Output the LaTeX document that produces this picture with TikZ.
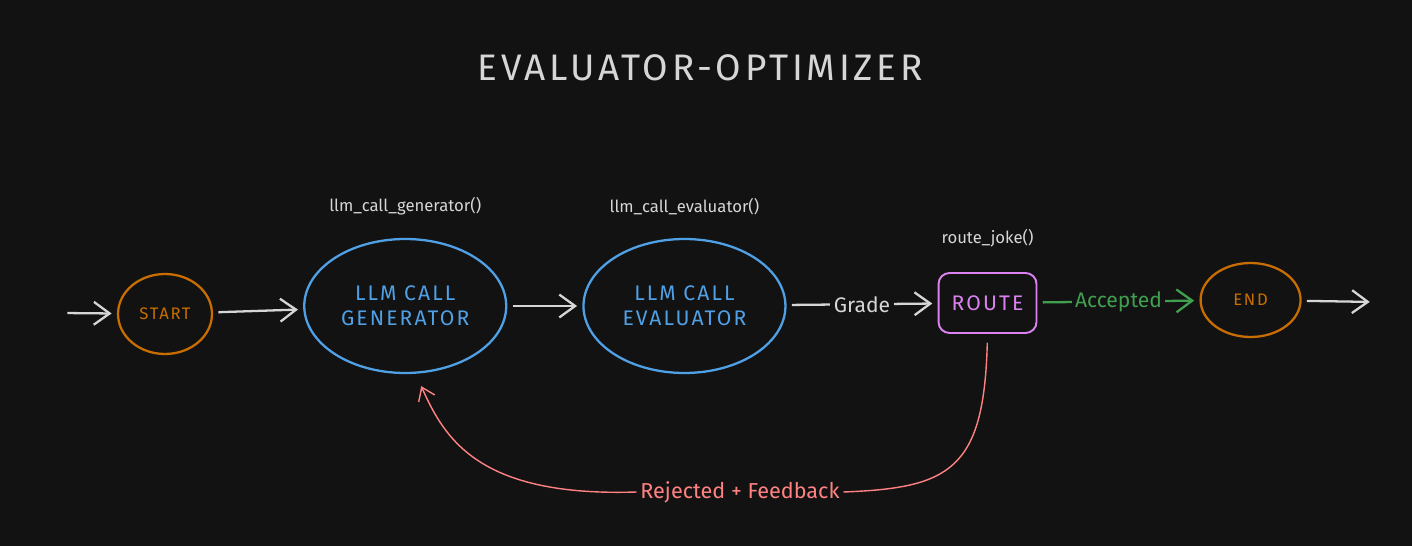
\documentclass[tikz,border=0pt]{standalone}
\usepackage{fontspec}
\setmainfont{Fira Sans}
\newfontfamily\capsfont[LetterSpace=10]{Fira Sans}
\usetikzlibrary{shapes.geometric, arrows.meta, positioning}
\definecolor{bgdark}{RGB}{18,18,18}
\definecolor{lightgrey}{RGB}{214,214,214}
\definecolor{nodeorange}{RGB}{200,110,0}
\definecolor{callblue}{RGB}{80,160,230}
\definecolor{routepink}{RGB}{220,130,240}
\definecolor{acceptgreen}{RGB}{64,160,80}
\definecolor{rejectred}{RGB}{255,130,130}

\begin{document}
\begin{tikzpicture}[
    x=0.02cm, y=-0.02cm,
    node distance=1.6cm,
    terminal/.style={ellipse, draw=nodeorange, line width=1.3pt, text=nodeorange, minimum width=1.88cm, minimum height=1.6cm, font=\capsfont\fontsize{9.5}{11}\selectfont},
    call/.style={ellipse, draw=callblue, line width=1.3pt, text=callblue, minimum width=4.04cm, minimum height=2.68cm, align=center, font=\capsfont\fontsize{12}{14}\selectfont},
    router/.style={rectangle, rounded corners=0.22cm, draw=routepink, line width=1.1pt, text=routepink, minimum width=1.96cm, minimum height=1.2cm, font=\capsfont\fontsize{12}{14}\selectfont},
    fname/.style={text=lightgrey, font=\fontsize{9.5}{11}\selectfont},
    arrow/.style={-{Straight Barb[length=9pt, width=13pt]}, line width=1.3pt, lightgrey, shorten >=3pt, shorten <=3pt},
    lbl/.style={fill=bgdark, font=\fontsize{12}{14}\selectfont, inner sep=2pt}
]

\fill[bgdark] (0,0) rectangle (1412,546);

\node[text=lightgrey, font=\capsfont\fontsize{21}{25}\selectfont] (title) at (700,68) {EVALUATOR-OPTIMIZER};

\node[terminal] (start) at (165,314) {START};
\node[call, right=1.8cm of start, yshift=0.16cm] (gen) {LLM CALL\\GENERATOR};
\node[call, right=1.5cm of gen] (eval) {LLM CALL\\EVALUATOR};
\node[router, right=3.02cm of eval, yshift=0.06cm] (route) {ROUTE};
\node[terminal, right=3.24cm of route, minimum width=2cm, minimum height=1.48cm, yshift=0.06cm] (end) {END};

\node[fname, above=0.33cm of gen] (genfn) {llm\_call\_generator()};
\node[fname, above=0.33cm of eval] (evalfn) {llm\_call\_evaluator()};
\node[fname, above=0.38cm of route] (routefn) {route\_joke()};

\coordinate (in) at (62,313);
\coordinate (out) at (1375,302);

\draw[arrow] (in) -- (start);
\draw[arrow] (start) -- (gen);
\draw[arrow] (gen) -- (eval);
\draw[arrow] (eval) -- node[lbl, text=lightgrey] {Grade} (route);
\draw[arrow, acceptgreen] (route) -- node[lbl, text=acceptgreen] {Accepted} (end);
\draw[arrow] (end) -- (out);

% feedback loop
\node[lbl, text=rejectred, font=\fontsize{12.3}{14}\selectfont] (fb) at (740,492) {Rejected + Feedback};
\draw[rejectred, line width=0.8pt, shorten <=5pt] (route.south) .. controls (984,470) and (950,488) .. (fb.east);
\draw[rejectred, line width=0.8pt, -{Straight Barb[length=7pt, width=10pt]}] (fb.west) .. controls (480,497) and (445,440) .. ([xshift=0.32cm, yshift=-0.24cm]gen.south);

\end{tikzpicture}
\end{document}
